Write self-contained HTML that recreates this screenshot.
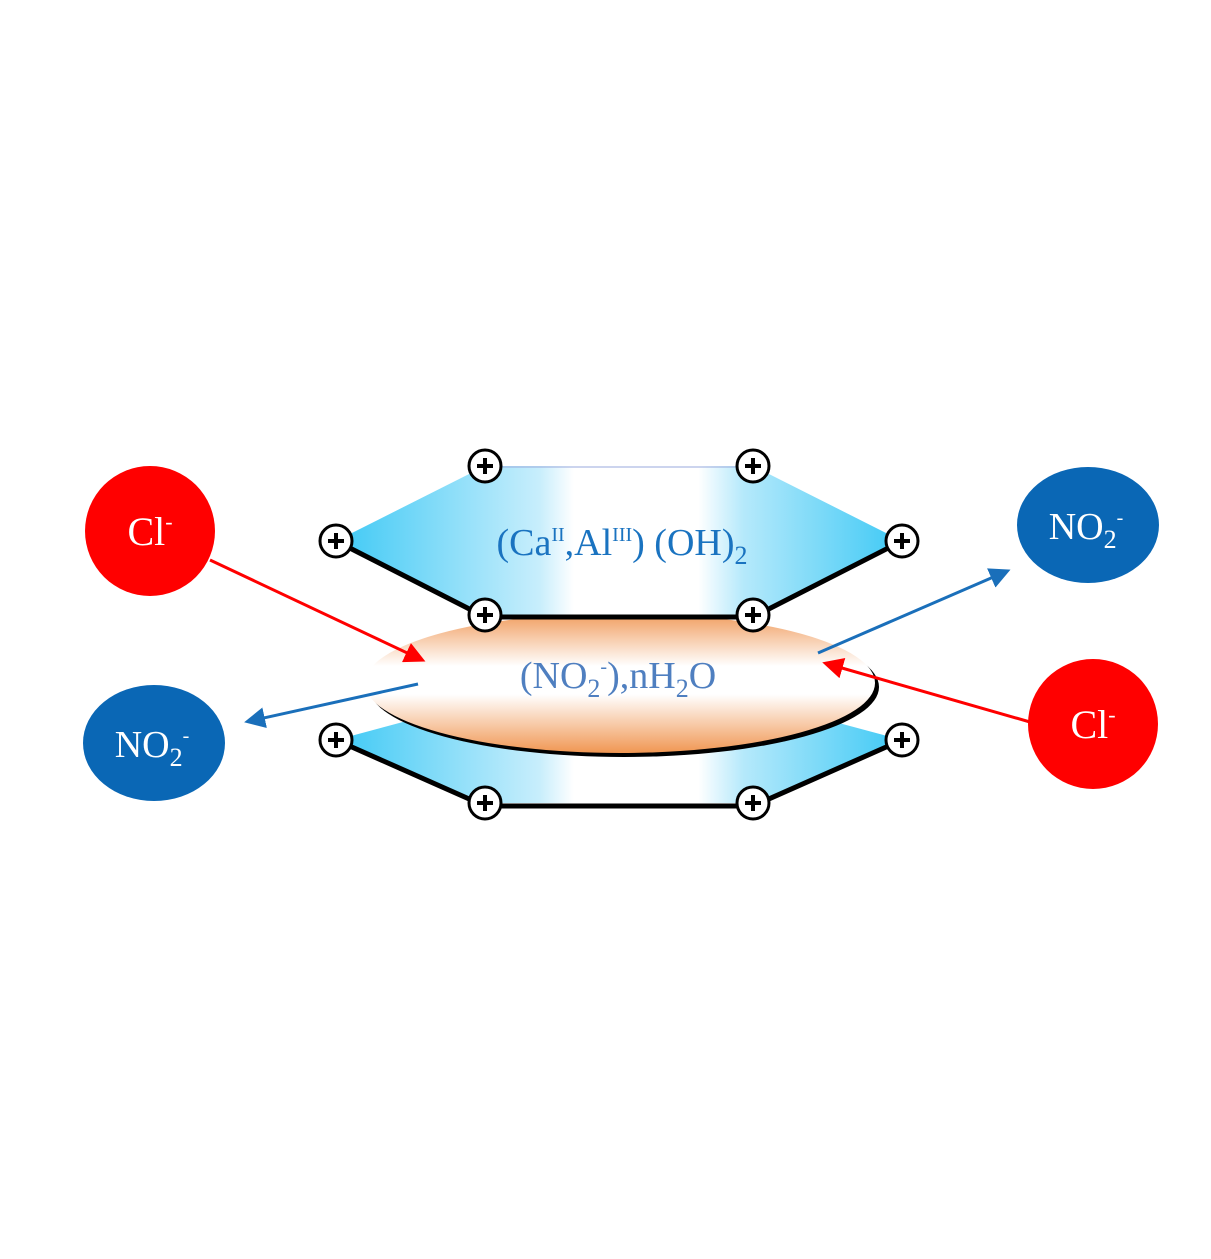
<!DOCTYPE html>
<html><head><meta charset="utf-8"><style>html,body{margin:0;padding:0;background:#fff}svg{display:block}</style></head><body>
<svg width="1211" height="1259" viewBox="0 0 1211 1259" xmlns="http://www.w3.org/2000/svg" font-family="Liberation Serif, serif">
<defs>
<linearGradient id="bl" x1="336" y1="0" x2="902" y2="0" gradientUnits="userSpaceOnUse">
<stop offset="0" stop-color="#3ec9f5"/><stop offset="0.36" stop-color="#c8eefc"/><stop offset="0.42" stop-color="#fff"/><stop offset="0.64" stop-color="#fff"/><stop offset="0.72" stop-color="#b5e9fb"/><stop offset="1" stop-color="#3ec9f5"/>
</linearGradient>
<linearGradient id="or" x1="0" y1="612" x2="0" y2="754" gradientUnits="userSpaceOnUse">
<stop offset="0" stop-color="#f09a5a"/><stop offset="0.38" stop-color="#fff"/><stop offset="0.58" stop-color="#fff"/><stop offset="1" stop-color="#f09550"/>
</linearGradient>
<marker id="ar" markerWidth="7" markerHeight="7" refX="5" refY="3.5" orient="auto" markerUnits="strokeWidth"><path d="M0,0 L7,3.5 L0,7 Z" fill="#f00"/></marker>
<marker id="ab" markerWidth="7" markerHeight="7" refX="5" refY="3.5" orient="auto" markerUnits="strokeWidth"><path d="M0,0 L7,3.5 L0,7 Z" fill="#1a6fba"/></marker>
<g id="p"><circle r="16" fill="#fff" stroke="#000" stroke-width="3"/><path d="M-8,0H8M0,-8V8" stroke="#000" stroke-width="4"/></g>
</defs>
<polygon points="336,740 485,803 753,803 902,740 753,700 485,700" fill="url(#bl)"/>
<polyline points="336,740 485,806 753,806 902,740" fill="none" stroke="#000" stroke-width="5"/>
<ellipse cx="624" cy="687" rx="255" ry="70" fill="#000"/>
<ellipse cx="620" cy="683" rx="255" ry="70" fill="url(#or)"/>
<text x="618" y="688" font-size="38" fill="#4f7fc0" text-anchor="middle">(NO<tspan font-size="26" dy="9">2</tspan><tspan font-size="20" dy="-24">-</tspan><tspan dy="15">),nH</tspan><tspan font-size="26" dy="9">2</tspan><tspan dy="-9">O</tspan></text>
<polygon points="485,466 753,466 902,541 753,615 485,615 336,541" fill="url(#bl)"/>
<line x1="485" y1="467" x2="753" y2="467" stroke="#9ad" stroke-width="1"/>
<polyline points="336,541 485,617 753,617 902,541" fill="none" stroke="#000" stroke-width="5"/>
<text x="622" y="555" font-size="38" fill="#1a73c0" text-anchor="middle">(Ca<tspan font-size="20" dy="-14">II</tspan><tspan dy="14">,Al</tspan><tspan font-size="20" dy="-14">III</tspan><tspan dy="14">)  (OH)</tspan><tspan font-size="26" dy="9">2</tspan></text>
<use href="#p" x="485" y="466"/><use href="#p" x="753" y="466"/>
<use href="#p" x="336" y="541"/><use href="#p" x="902" y="541"/>
<use href="#p" x="485" y="615"/><use href="#p" x="753" y="615"/>
<use href="#p" x="336" y="740"/><use href="#p" x="902" y="740"/>
<use href="#p" x="485" y="803"/><use href="#p" x="753" y="803"/>
<circle cx="150" cy="531" r="65" fill="#f00"/>
<text x="150" y="545" font-size="40" fill="#fff" text-anchor="middle">Cl<tspan font-size="22" dy="-16">-</tspan></text>
<circle cx="1093" cy="724" r="65" fill="#f00"/>
<text x="1093" y="738" font-size="40" fill="#fff" text-anchor="middle">Cl<tspan font-size="22" dy="-16">-</tspan></text>
<ellipse cx="1088" cy="525" rx="71" ry="58" fill="#0a67b5"/>
<text x="1086" y="539" font-size="38" fill="#fff" text-anchor="middle">NO<tspan font-size="26" dy="9">2</tspan><tspan font-size="20" dy="-24">-</tspan></text>
<ellipse cx="154" cy="743" rx="71" ry="58" fill="#0a67b5"/>
<text x="152" y="757" font-size="38" fill="#fff" text-anchor="middle">NO<tspan font-size="26" dy="9">2</tspan><tspan font-size="20" dy="-24">-</tspan></text>
<line x1="210" y1="560" x2="420" y2="659" stroke="#f00" stroke-width="3" marker-end="url(#ar)"/>
<line x1="1030" y1="722" x2="828" y2="664" stroke="#f00" stroke-width="3" marker-end="url(#ar)"/>
<line x1="418" y1="684" x2="250" y2="721" stroke="#1a6fba" stroke-width="3" marker-end="url(#ab)"/>
<line x1="818" y1="653" x2="1005" y2="572" stroke="#1a6fba" stroke-width="3" marker-end="url(#ab)"/>
</svg>
</body></html>
